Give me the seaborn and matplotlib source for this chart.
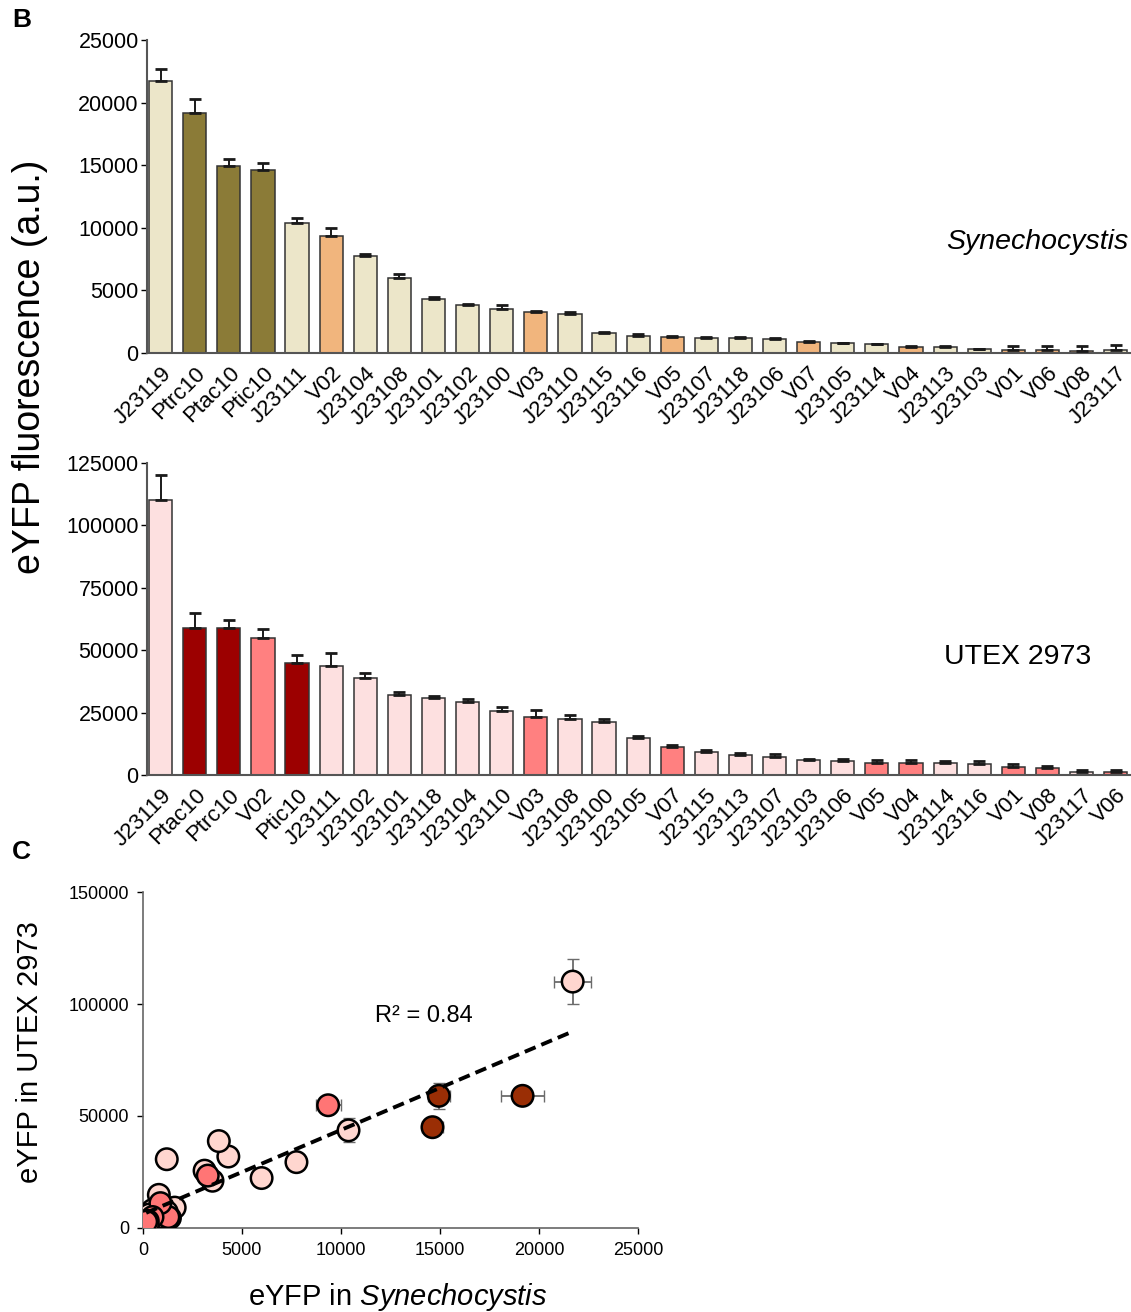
import numpy as np
import pandas as pd
import matplotlib
matplotlib.use("Agg")
import matplotlib.pyplot as plt
import seaborn as sns

# --- Synechocystis (panel B, top) ---
SYN_NAMES = ['J23119', 'Ptrc10', 'Ptac10', 'Ptic10', 'J23111', 'V02', 'J23104',
             'J23108', 'J23101', 'J23102', 'J23100', 'V03', 'J23110', 'J23115',
             'J23116', 'V05', 'J23107', 'J23118', 'J23106', 'V07', 'J23105',
             'J23114', 'V04', 'J23113', 'J23103', 'V01', 'V06', 'V08', 'J23117']
SYN_MEAN = [21700, 19170, 14940, 14620, 10380, 9350, 7750, 5990, 4310, 3830,
            3510, 3270, 3110, 1600, 1360, 1280, 1200, 1200, 1120, 880, 800,
            720, 480, 480, 320, 240, 240, 160, 240]
SYN_ERR = [950, 1100, 550, 550, 400, 630, 150, 310, 190, 70, 290, 80, 190, 50,
           120, 90, 40, 40, 80, 60, 30, 30, 60, 60, 30, 300, 300, 380, 360]

# --- UTEX 2973 (panel B, bottom) ---
UTEX_NAMES = ['J23119', 'Ptac10', 'Ptrc10', 'V02', 'Ptic10', 'J23111', 'J23102',
              'J23101', 'J23118', 'J23104', 'J23110', 'V03', 'J23108', 'J23100',
              'J23105', 'V07', 'J23115', 'J23113', 'J23107', 'J23103', 'J23106',
              'V05', 'V04', 'J23114', 'J23116', 'V01', 'V08', 'J23117', 'V06']
UTEX_MEAN = [110000, 59000, 59000, 54800, 45000, 43600, 38800, 31900, 30700,
             29400, 25600, 23400, 22300, 21100, 14800, 11100, 9100, 8000, 7200,
             6000, 5600, 4900, 4900, 4700, 4500, 3200, 2800, 1300, 1300]
UTEX_ERR = [10200, 5800, 2900, 3700, 3100, 5300, 1900, 1300, 900, 1100, 1700,
            2700, 1600, 1300, 900, 1100, 900, 800, 1100, 550, 650, 1300, 950,
            1100, 1300, 1200, 950, 550, 550]

SYN_COLORS = {'J': '#ECE6C9', 'P': '#8B7B37', 'V': '#F1B57D'}
UTEX_COLORS = {'J': '#FDE0E0', 'P': '#9C0000', 'V': '#FF8080'}
SCATTER_COLORS = {'J': '#FFD6CF', 'P': '#9A2E05', 'V': '#FF7575'}

sns.set_style("ticks")
plt.rcParams['font.family'] = ['Liberation Sans', 'DejaVu Sans']
plt.rcParams['mathtext.fontset'] = 'custom'
plt.rcParams['mathtext.rm'] = 'Liberation Sans'
plt.rcParams['mathtext.it'] = 'Liberation Sans:italic'
for k in ['text.color', 'axes.labelcolor', 'xtick.color', 'ytick.color']:
    plt.rcParams[k] = 'black'

W, H = 1131, 1312
fig = plt.figure(figsize=(W / 100, H / 100), dpi=100)


def group_of(name):
    return name[0]


def bar_panel(ax, names, means, errs, colors, ymax, step):
    df = pd.DataFrame({'promoter': names, 'value': means, 'err': errs})
    df['group'] = df['promoter'].map(group_of)
    sns.barplot(data=df, x='promoter', y='value', hue='group', palette=colors,
                order=names, dodge=False, width=0.68, edgecolor='#333333',
                linewidth=1.1, legend=False, ax=ax, errorbar=None,
                saturation=1, zorder=2)
    pos = np.arange(len(names))
    ax.errorbar(pos, df['value'], yerr=[np.zeros(len(names)), df['err']],
                fmt='none', ecolor='#1a1a1a', elinewidth=1.4, capsize=4.5,
                capthick=2, zorder=3)
    ax.set_xlim(-0.4, 28.45)
    ax.set_ylim(0, ymax)
    ax.set_yticks(np.arange(0, ymax + 1, step))
    ax.set_xticks(pos)
    ax.set_xticklabels(names, rotation=45, ha='right', rotation_mode='anchor',
                       fontsize=16)
    ax.tick_params(axis='x', length=0, pad=7)
    ax.tick_params(axis='y', labelsize=15.5, length=4, width=1, pad=2)
    ax.set_xlabel('')
    ax.set_ylabel('')
    sns.despine(ax=ax)
    for s in ['left', 'bottom']:
        ax.spines[s].set_color('#555555')
        ax.spines[s].set_linewidth(1.5)


ax1 = fig.add_axes([147 / W, 1 - 353 / H, (W - 147) / W, 313 / H])
bar_panel(ax1, SYN_NAMES, SYN_MEAN, SYN_ERR, SYN_COLORS, 25000, 5000)
ax1.text(0.9975, 1 - 242 / H, 'Synechocystis', transform=fig.transFigure,
         ha='right', va='center', fontsize=20.5, style='italic')

ax2 = fig.add_axes([147 / W, 1 - 775 / H, (W - 147) / W, 312 / H])
bar_panel(ax2, UTEX_NAMES, UTEX_MEAN, UTEX_ERR, UTEX_COLORS, 125000, 25000)
ax2.text(1018 / W, 1 - 657 / H, 'UTEX 2973', transform=fig.transFigure,
         ha='center', va='center', fontsize=20.5)

fig.text(30 / W, 1 - 367 / H, 'eYFP fluorescence (a.u.)', rotation=90,
         ha='center', va='center', fontsize=27)
fig.text(12 / W, 1 - 20 / H, 'B', fontsize=19, fontweight='bold',
         ha='left', va='center')
fig.text(12 / W, 1 - 852 / H, 'C', fontsize=19, fontweight='bold',
         ha='left', va='center')

# --- panel C: scatter built by matching promoters ---
syn = pd.DataFrame({'promoter': SYN_NAMES, 'syn': SYN_MEAN, 'syn_err': SYN_ERR})
utex = pd.DataFrame({'promoter': UTEX_NAMES, 'utex': UTEX_MEAN, 'utex_err': UTEX_ERR})
sc = syn.merge(utex, on='promoter')
sc['group'] = sc['promoter'].map(group_of)
sc['order'] = sc['group'].map({'J': 0, 'V': 1, 'P': 2})
sc = sc.sort_values('order', kind='stable')

ax3 = fig.add_axes([143 / W, 1 - 1228 / H, 495 / W, 336 / H])
ax3.errorbar(sc['syn'], sc['utex'], xerr=sc['syn_err'], yerr=sc['utex_err'],
             fmt='none', ecolor='#6b6b6b', elinewidth=1.3, capsize=4, zorder=1)
sns.scatterplot(data=sc, x='syn', y='utex', hue='group', palette=SCATTER_COLORS,
                s=240, edgecolor='black', linewidth=1.8, legend=False, ax=ax3,
                zorder=3)
sns.regplot(data=sc, x='syn', y='utex', scatter=False, ci=None, ax=ax3,
            line_kws=dict(color='black', ls=(0, (3, 1.6)), lw=2.8, zorder=4))
ax3.set_xlim(0, 25000)
ax3.set_ylim(0, 150000)
ax3.set_xticks(np.arange(0, 25001, 5000))
ax3.set_yticks([0, 50000, 100000, 150000])
ax3.tick_params(labelsize=13, length=4, width=1, pad=6)
ax3.set_xlabel('')
ax3.set_ylabel('')
sns.despine(ax=ax3)
for s in ['left', 'bottom']:
    ax3.spines[s].set_color('#666666')
    ax3.spines[s].set_linewidth(1.2)
ax3.text(14200, 94600, 'R² = 0.84', ha='center', va='center', fontsize=17)

fig.text(30 / W, 1 - 1052 / H, 'eYFP in UTEX 2973', rotation=90,
         ha='center', va='center', fontsize=21)
fig.text(398 / W, 1 - 1297 / H, r'eYFP in $\it{Synechocystis}$',
         ha='center', va='center', fontsize=21)

fig.savefig('out.png', dpi=100)
